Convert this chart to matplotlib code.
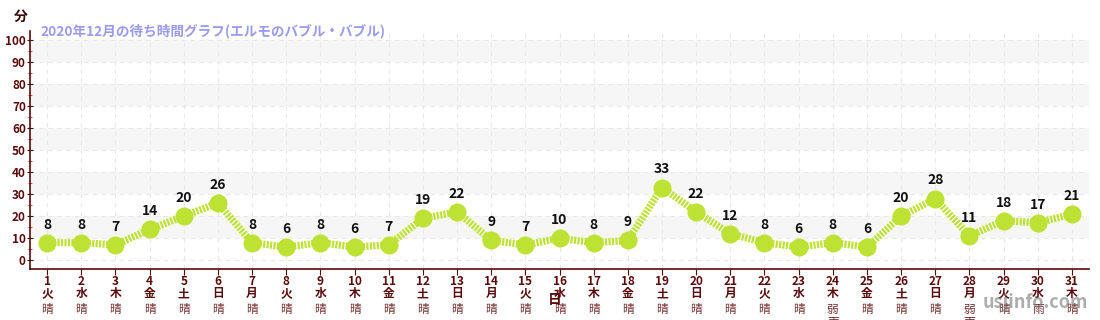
import datetime
import matplotlib
matplotlib.use("Agg")
import matplotlib.pyplot as plt
import matplotlib.transforms as mtransforms
from matplotlib.ticker import MultipleLocator

plt.rcParams['font.family'] = ['Noto Sans CJK JP', 'DejaVu Sans']

# data
days = list(range(1, 32))
wait_minutes = [8, 8, 7, 14, 20, 26, 8, 6, 8, 6, 7, 19, 22, 9, 7, 10,
                8, 9, 33, 22, 12, 8, 6, 8, 6, 20, 28, 11, 18, 17, 21]
weekday_names = ['月', '火', '水', '木', '金', '土', '日']
weekdays = [weekday_names[datetime.date(2020, 12, d).weekday()] for d in days]
weather = ['晴'] * 31
weather[23] = '弱\n雨'
weather[27] = '弱\n雨'
weather[29] = '雨'

title = '2020年12月の待ち時間グラフ(エルモのバブル・バブル)'
dark_red = '#5a0a0a'
green = '#bde233'

fig = plt.figure(figsize=(11, 3.2), dpi=100)
ax = fig.add_axes([0.0273, 0.159, 0.9627, 0.744])

# alternating bands
for lo in range(10, 100, 20):
    ax.axhspan(lo, lo + 10, color='#f6f6f6', zorder=0, lw=0)

ax.plot(days, wait_minutes, color=green, lw=5.2, dashes=[0.3, 0.18],
        solid_capstyle='butt', zorder=3)
ax.plot(days, wait_minutes, 'o', color=green, markersize=12, zorder=4)
for d, v in zip(days, wait_minutes):
    ax.annotate(str(v), (d, v), xytext=(0, 8), textcoords='offset points',
                ha='center', va='bottom', fontsize=10, fontweight='bold',
                color='#111111', zorder=5)

ax.set_xlim(0.5, 31.5)
ax.set_ylim(-4, 104)
ax.yaxis.set_major_locator(MultipleLocator(10))
ax.yaxis.set_minor_locator(MultipleLocator(5))
ax.set_xticks(days)
ax.set_xticklabels([f'{d}\n{w}' for d, w in zip(days, weekdays)],
                   linespacing=0.95)
ax.tick_params(axis='x', length=4, color=dark_red, labelcolor=dark_red,
               labelsize=8.5, pad=0)
ax.tick_params(axis='y', which='major', length=4, color='#222222',
               labelcolor=dark_red, labelsize=8.5, pad=1, direction='inout')
ax.tick_params(axis='y', which='minor', length=3, color='#dd2222',
               direction='inout')
for lab in ax.get_xticklabels() + ax.get_yticklabels():
    lab.set_fontweight('bold')

ax.grid(True, which='major', color='#e8e8e8', ls=(0, (4, 4)), lw=0.8)
ax.set_axisbelow(True)
for s in ['top', 'right']:
    ax.spines[s].set_visible(False)
for s in ['left', 'bottom']:
    ax.spines[s].set_color(dark_red)
    ax.spines[s].set_linewidth(1.2)

trans = mtransforms.blended_transform_factory(ax.transData, fig.transFigure)
for d, w in zip(days, weather):
    ax.text(d, 1 - 303 / 320, w, transform=trans, ha='center', va='top',
            fontsize=8.5, color=dark_red, linespacing=1.0, alpha=0.85)

fig.text(555 / 1100, 1 - 300 / 320, '日', ha='center', va='center',
         fontsize=10, fontweight='bold', color=dark_red)
fig.text(21 / 1100, 1 - 17 / 320, '分', ha='center', va='center',
         fontsize=10, fontweight='bold', color='#3a0a0a')
fig.text(40 / 1100, 1 - 31 / 320, title, ha='left', va='center',
         fontsize=9.8, fontweight='bold', color='#9a9af0')
fig.text(1088 / 1100, 1 - 303 / 320, 'usjinfo.com', ha='right', va='center',
         fontsize=13, fontweight='bold', color='#777777', alpha=0.6)

fig.savefig('out.png', dpi=100)
